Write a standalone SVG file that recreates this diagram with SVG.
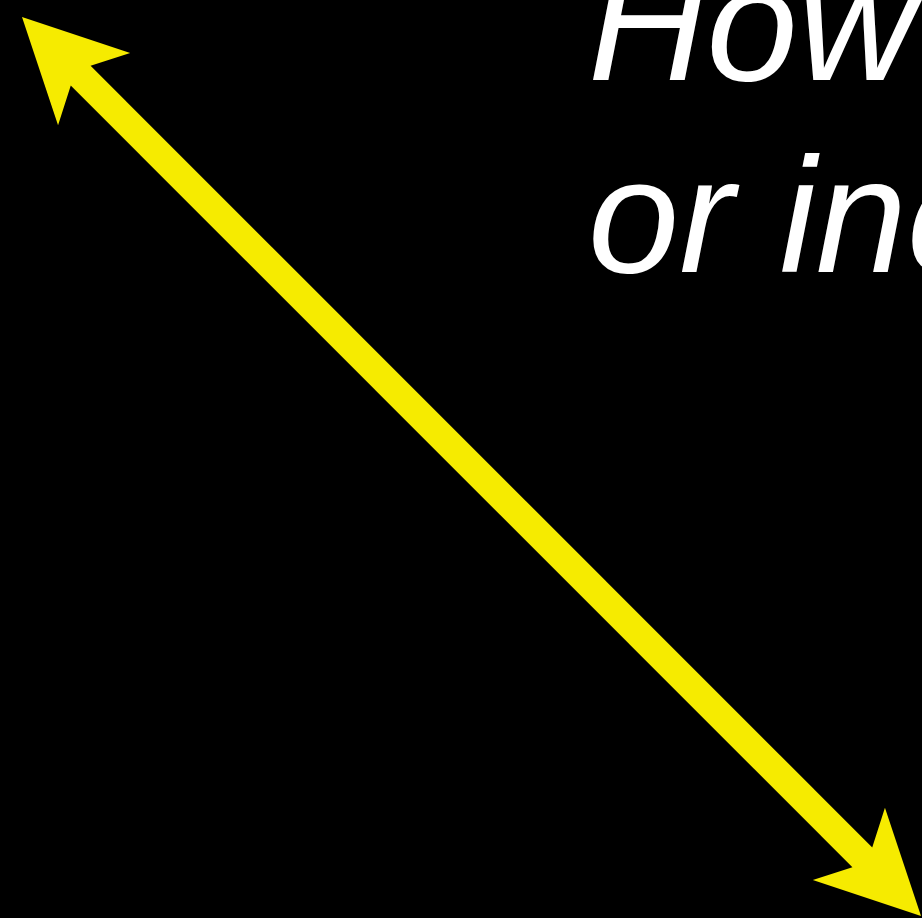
<svg xmlns="http://www.w3.org/2000/svg" width="922" height="918" viewBox="0 0 922 918">
<defs>
<style>
.caption{font-family:"Liberation Sans",Arial,sans-serif;font-style:italic;font-size:164px;fill:#ffffff}
.arrow{stroke:#f6eb00;stroke-width:28;fill:none}
</style>
<marker id="head" markerUnits="userSpaceOnUse" markerWidth="200" markerHeight="200" viewBox="-100 -100 200 200" refX="0" refY="0" orient="auto-start-reverse" overflow="visible">
<path d="M43,0 L-59,-51 L-40,-14 L-40,14 L-59,51 Z" fill="#f6eb00"/>
</marker>
</defs>
<rect x="0" y="0" width="922" height="918" fill="#000000"/>
<g id="caption">
<text class="caption" x="588" y="80">How</text>
<text class="caption" x="588" y="271.5">or inc</text>
</g>
<g id="connectors">
<line class="arrow" x1="52.4" y1="47.4" x2="890.6" y2="885.6" marker-start="url(#head)" marker-end="url(#head)"/>
</g>
</svg>
